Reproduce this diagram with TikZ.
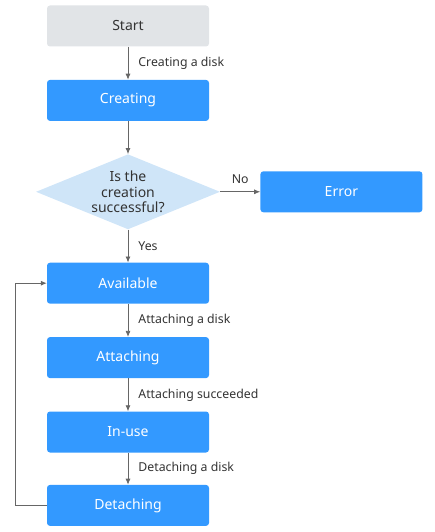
\documentclass[tikz,border=0pt]{standalone}
\usepackage{fontspec}
\setmainfont{Noto Sans}
\usetikzlibrary{positioning,arrows.meta,shapes.geometric}
\definecolor{stateblue}{HTML}{3399FF}
\definecolor{startgray}{HTML}{E1E4E7}
\definecolor{decisionblue}{HTML}{CFE5F8}
\definecolor{linegray}{HTML}{666666}
\definecolor{textgray}{HTML}{333333}

\begin{document}
\begin{tikzpicture}[
    x=1pt, y=-1pt,
    node distance=33pt,
    box/.style={rectangle, rounded corners=3pt, fill=stateblue, text=white, minimum width=162pt, minimum height=41pt, inner sep=0pt, font=\fontsize{14}{16}\selectfont},
    startbox/.style={box, fill=startgray, text=textgray},
    decision/.style={diamond, fill=decisionblue, text=textgray, minimum width=184pt, minimum height=75pt, inner sep=0pt, shape aspect=2.45, align=center, font=\fontsize{14}{15.5}\selectfont},
    arrow/.style={-{Latex[length=6pt,width=5pt]}, draw=linegray, line width=0.8pt},
    lbl/.style={inner sep=0pt, text=textgray, font=\fontsize{12.3}{14}\selectfont}
]
\useasboundingbox (0,0) rectangle (434,532);

% Nodes
\node[startbox] (start) at (128,26) {Start};
\node[box, below=of start] (creating) {Creating};
\node[decision, below=of creating] (success) {Is the\\creation\\successful?};
\node[box, right=40pt of success] (error) {Error};
\node[box, below=of success] (available) {Available};
\node[box, below=of available] (attaching) {Attaching};
\node[box, below=of attaching] (inuse) {In-use};
\node[box, below=32pt of inuse] (detaching) {Detaching};

% Arrows
\draw[arrow] (start) -- node[lbl, right=10pt] {Creating a disk} (creating);
\draw[arrow] (creating) -- (success);
\draw[arrow] (success) -- node[lbl, above=8pt] {No} (error);
\draw[arrow] (success) -- node[lbl, right=10pt] {Yes} (available);
\draw[arrow] (available) -- node[lbl, right=10pt] {Attaching a disk} (attaching);
\draw[arrow] (attaching) -- node[lbl, right=10pt] {Attaching succeeded} (inuse);
\draw[arrow] (inuse) -- node[lbl, right=10pt] {Detaching a disk} (detaching);
\draw[arrow] (detaching.west) -- ++(-31,0) |- (available.west);

\end{tikzpicture}
\end{document}
